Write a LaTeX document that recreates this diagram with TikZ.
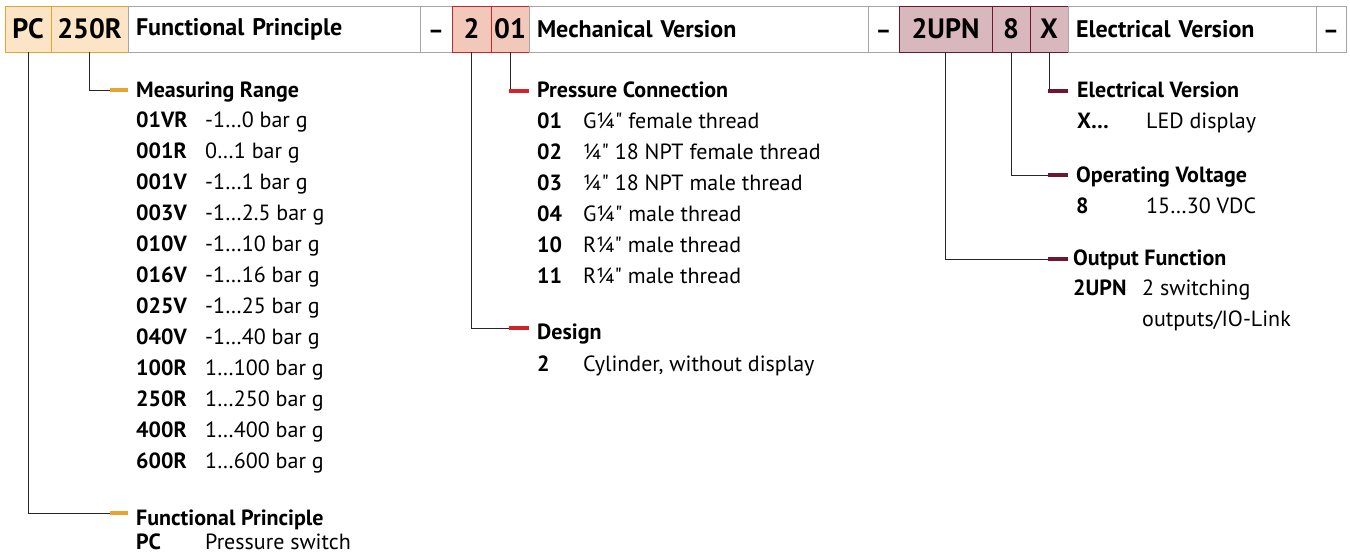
\documentclass[tikz,border=0pt]{standalone}
\usepackage{fontspec}
\setmainfont{PT Sans}
\usetikzlibrary{positioning}
\definecolor{orangeline}{HTML}{E8A42F}
\definecolor{orangefill}{HTML}{FBE5C6}
\definecolor{redline}{HTML}{D2232A}
\definecolor{redfill}{HTML}{F2C8BA}
\definecolor{wineline}{HTML}{6B1730}
\definecolor{winefill}{HTML}{D8B8BC}

\begin{document}
\begin{tikzpicture}[
    x=1pt, y=-1pt,
    cell/.style={draw, outer sep=0pt, inner sep=0pt, minimum height=46pt, line width=1pt},
    code/.style={cell, font=\fontsize{28}{32}\selectfont\bfseries},
    ocode/.style={code, draw=orangeline, fill=orangefill},
    rcode/.style={code, draw=redline, fill=redfill},
    wcode/.style={code, draw=wineline, fill=winefill},
    namebox/.style={cell, draw=gray!70, text width=#1, inner xsep=8pt, align=left, font=\fontsize{24}{28}\selectfont\bfseries},
    dashbox/.style={cell, draw=gray!70, text height=19pt, text depth=0pt, font=\fontsize{24}{28}\selectfont\bfseries},
    head/.style={anchor=base west, inner sep=0pt, font=\fontsize{22}{26}\selectfont\bfseries},
    list/.style={anchor=base west, inner sep=0pt, font=\fontsize{22}{31}\selectfont},
    link/.style={black!85, line width=0.9pt},
    obar/.style={orangeline, line width=4pt},
    rbar/.style={redline, line width=4pt},
    wbar/.style={wineline, line width=4pt}
]
    \useasboundingbox (0,0) rectangle (1350,555);

    % type code row
    \node[ocode, minimum width=46pt, anchor=west] (pc) at (5,29) {PC};
    \node[ocode, minimum width=77pt, right=0pt of pc] (range) {250R};
    \node[namebox=276pt, right=0pt of range] (fpname) {Functional Principle};
    \node[dashbox, minimum width=32pt, right=0pt of fpname] (dash1) {–};
    \node[rcode, minimum width=39pt, right=0pt of dash1] (design) {2};
    \node[rcode, minimum width=38pt, right=0pt of design] (conn) {01};
    \node[namebox=323pt, right=0pt of conn] (mvname) {Mechanical Version};
    \node[dashbox, minimum width=31pt, right=0pt of mvname] (dash2) {–};
    \node[wcode, minimum width=93pt, right=0pt of dash2] (outfn) {2UPN};
    \node[wcode, minimum width=38pt, right=0pt of outfn] (volt) {8};
    \node[wcode, minimum width=38pt, right=0pt of volt] (elv) {X};
    \node[namebox=232pt, right=0pt of elv] (evname) {Electrical Version};
    \node[dashbox, minimum width=30pt, right=0pt of evname] (dash3) {–};

    % bar ends
    \coordinate (mrbar) at (110,90);
    \coordinate (fpbar) at (110,513);
    \coordinate (pcbar) at (509,91);
    \coordinate (debar) at (509,328);
    \coordinate (evbar) at (1048,91);
    \coordinate (ovbar) at (1048,175);
    \coordinate (ofbar) at (1048,259);

    \draw[link] (range.south) |- (mrbar);
    \draw[link] (pc.south) |- (fpbar);
    \draw[link] (conn.south) |- (pcbar);
    \draw[link] (design.south) |- (debar);
    \draw[link] (elv.south) |- (evbar);
    \draw[link] (volt.south) |- (ovbar);
    \draw[link] (outfn.south) |- (ofbar);
    \draw[obar] (mrbar) -- ++(18,0);
    \draw[obar] (fpbar) -- ++(18,0);
    \draw[rbar] (pcbar) -- ++(20,0);
    \draw[rbar] (debar) -- ++(20,0);
    \draw[wbar] (evbar) -- ++(20,0);
    \draw[wbar] (ovbar) -- ++(20,0);
    \draw[wbar] (ofbar) -- ++(20,0);

    % measuring range
    \node[head] (mrhead) at (136,97) {Measuring Range};
    \node[list] (mrlist) at (136,127) {\begin{tabular}[t]{@{}p{69pt}@{}l@{}}
        \textbf{01VR} & -1…0 bar g\\
        \textbf{001R} & 0…1 bar g\\
        \textbf{001V} & -1…1 bar g\\
        \textbf{003V} & -1…2.5 bar g\\
        \textbf{010V} & -1…10 bar g\\
        \textbf{016V} & -1…16 bar g\\
        \textbf{025V} & -1…25 bar g\\
        \textbf{040V} & -1…40 bar g\\
        \textbf{100R} & 1…100 bar g\\
        \textbf{250R} & 1…250 bar g\\
        \textbf{400R} & 1…400 bar g\\
        \textbf{600R} & 1…600 bar g
    \end{tabular}};

    % functional principle
    \node[head] (fphead) at (136,525) {Functional Principle};
    \node[list] (fplist) at (136,549) {\begin{tabular}[t]{@{}p{69pt}@{}l@{}}
        \textbf{PC} & Pressure switch
    \end{tabular}};

    % pressure connection
    \node[head] (pchead) at (537,97) {Pressure Connection};
    \node[list] (pclist) at (537,128) {\begin{tabular}[t]{@{}p{46pt}@{}l@{}}
        \textbf{01} & G¼\textquotedbl{} female thread\\
        \textbf{02} & ¼\textquotedbl{} 18 NPT female thread\\
        \textbf{03} & ¼\textquotedbl{} 18 NPT male thread\\
        \textbf{04} & G¼\textquotedbl{} male thread\\
        \textbf{10} & R¼\textquotedbl{} male thread\\
        \textbf{11} & R¼\textquotedbl{} male thread
    \end{tabular}};

    % design
    \node[head] (dehead) at (537,339) {Design};
    \node[list] (delist) at (537,371) {\begin{tabular}[t]{@{}p{46pt}@{}l@{}}
        \textbf{2} & Cylinder, without display
    \end{tabular}};

    % electrical version
    \node[head] (evhead) at (1077,97) {Electrical Version};
    \node[list] (evlist) at (1077,128) {\begin{tabular}[t]{@{}p{69pt}@{}l@{}}
        \textbf{X…} & LED display
    \end{tabular}};

    % operating voltage
    \node[head] (ovhead) at (1076,182) {Operating Voltage};
    \node[list] (ovlist) at (1076,213) {\begin{tabular}[t]{@{}p{70pt}@{}l@{}}
        \textbf{8} & 15…30 VDC
    \end{tabular}};

    % output function
    \node[head] (ofhead) at (1073,265) {Output Function};
    \node[list] (oflist) at (1073,295) {\begin{tabular}[t]{@{}p{69pt}@{}l@{}}
        \textbf{2UPN} & 2 switching\\
         & outputs/IO-Link
    \end{tabular}};
\end{tikzpicture}
\end{document}
